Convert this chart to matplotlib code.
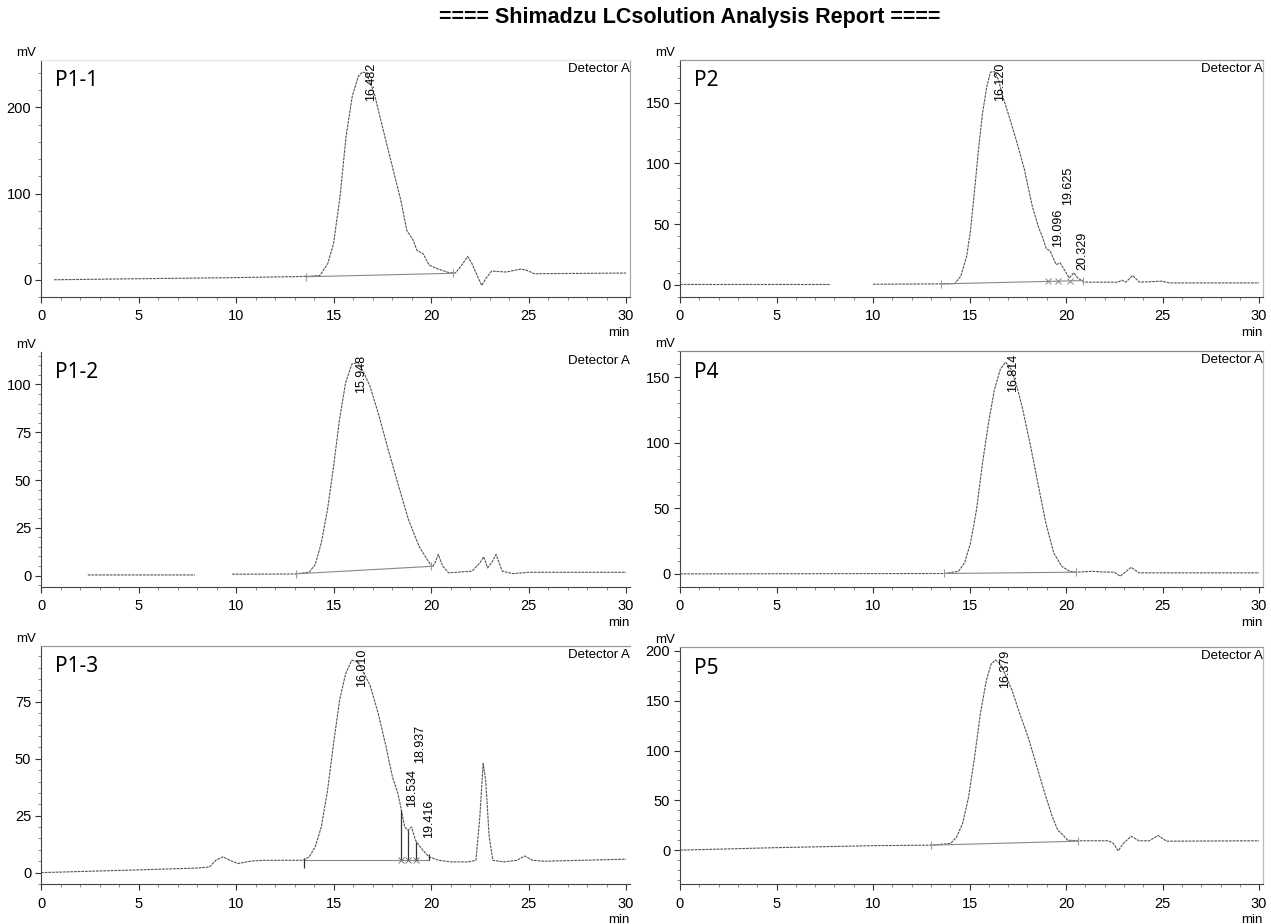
import numpy as np
import matplotlib
matplotlib.use("Agg")
import matplotlib.pyplot as plt
from matplotlib.ticker import MultipleLocator, AutoMinorLocator

plt.rcParams['font.family'] = ['Liberation Sans', 'DejaVu Sans']

nan = np.nan

# ---- chromatogram traces (time in min, signal in mV) ----
p11_t = [0.67, 5, 10, 13.67, 14.3, 14.7, 15.0, 15.33, 15.64, 15.96, 16.27, 16.48, 16.68, 16.89,
         17.1, 17.5, 17.93, 18.45, 18.76, 19.08, 19.28, 19.6, 19.9, 20.3, 20.95, 21.26, 21.57,
         21.88, 22.1, 22.4, 22.6, 22.8, 23.1, 23.86, 24.6, 24.9, 25.3, 30]
p11_mv = [0, 1.2, 2.5, 3.9, 5, 18.6, 42, 96, 166, 213, 236, 241, 240, 228,
          215, 178, 139, 92, 57, 46, 34, 30, 17, 13, 8, 8, 17,
          27, 18.6, 3, -6.6, 1, 10, 9, 12.4, 11, 7, 7.8]

p2_t = [0, 7.8, nan, 10, 13.5, 14.23, 14.54, 14.85, 15.05, 15.26, 15.46, 15.67, 15.88, 16.08,
        16.29, 16.5, 16.7, 17.0, 17.42, 17.84, 18.25, 18.56, 18.76, 18.97, 19.18, 19.48, 19.69,
        19.9, 20.16, 20.4, 20.6, 20.93, 22.68, 22.9, 23.1, 23.44, 23.8, 24.95, 25.36, 30]
p2_mv = [0.3, 0.3, nan, 0.5, 0.8, 1, 7, 23.5, 45, 78, 111, 141, 162, 175,
         175.5, 168.6, 156, 141, 119, 95, 64.6, 48, 40, 30, 27.6, 16.7, 18,
         12.6, 5.7, 9.9, 5.7, 2.2, 2.2, 3.8, 2.2, 7.7, 2.2, 3, 1.6, 1.6]

p12_t = [2.4, 7.9, nan, 9.8, 13.0, 13.75, 14.06, 14.37, 14.69, 15.0, 15.31, 15.62, 15.94, 16.25,
         16.56, 16.87, 17.29, 17.8, 18.33, 18.85, 19.38, 19.8, 20.06, 20.2, 20.37, 20.6, 20.9,
         22.1, 22.5, 22.7, 22.9, 23.1, 23.33, 23.65, 24.2, 25, 30]
p12_mv = [0.3, 0.3, nan, 0.7, 0.8, 1.7, 5.8, 17, 34.6, 57, 82, 101, 110.7, 111.5,
          106, 99, 85, 66, 47, 29, 15.4, 8.4, 4.4, 6.6, 11, 4.9, 1.4,
          2.3, 6.6, 9.8, 4, 6.6, 11, 2.3, 1, 1.7, 1.7]

p4_t = [0, 13.7, 14.43, 14.74, 15.05, 15.36, 15.67, 15.98, 16.28, 16.59, 16.86, 17.1, 17.41,
        17.72, 18.13, 18.54, 18.95, 19.36, 19.77, 20.18, 20.5, 21.4, 21.8, 22.5, 22.8, 23.06,
        23.37, 23.78, 30]
p4_mv = [0, 0.3, 2, 8.4, 23.6, 49, 84.5, 115, 140, 156, 161.4, 158, 145,
         127.7, 99.7, 69, 38.8, 16, 5.8, 2, 1.3, 2, 1.5, 1.3, -1.8, 1.3,
         5, 0.8, 0.8]

p13_t = [0, 5, 8, 8.65, 8.96, 9.33, 9.69, 10.1, 10.8, 11.46, 12.5, 13.44, 13.75, 14.06, 14.37,
         14.69, 15.0, 15.31, 15.62, 15.94, 16.25, 16.56, 16.87, 17.29, 17.7, 18.02, 18.3, 18.48,
         18.65, 18.81, 19.0, 19.2, 19.38, 19.58, 19.9, 20.4, 21.04, 21.9, 22.3, 22.5, 22.67,
         22.8, 22.98, 23.17, 23.75, 24.4, 24.8, 25.2, 25.8, 30]
p13_mv = [0, 1.2, 2, 2.5, 5.4, 6.9, 5.4, 4, 5.1, 5.4, 5.4, 5.4, 6.9, 11.3, 20,
          36, 56.7, 75.7, 87.4, 93.3, 92.6, 87.4, 82.3, 69.9, 55, 42, 34.7, 27.4,
          20, 18.6, 20, 14.2, 12, 9.8, 6.9, 5.4, 4.7, 4.7, 5.4, 24.5, 47.9,
          40.6, 15.7, 5.4, 4.7, 5.4, 7.3, 5.4, 5, 5.9]

p5_t = [0, 5, 10, 13.0, 14.02, 14.33, 14.64, 14.95, 15.26, 15.56, 15.87, 16.12, 16.34, 16.59,
        16.9, 17.2, 17.6, 18.03, 18.44, 18.85, 19.26, 19.57, 19.8, 20.08, 20.6, 22.2, 22.45,
        22.7, 22.96, 23.37, 23.78, 24.3, 24.77, 25.2, 30]
p5_mv = [0, 2.5, 4.5, 5, 6.7, 13.4, 26.8, 53.5, 93.6, 137, 170.6, 187, 191, 187,
         174, 160.5, 137, 113.7, 87, 60, 35, 20, 16, 10, 9.4, 9.4, 6.7,
         -0.7, 6.7, 14, 9.4, 9.4, 14.7, 9, 9.4]

# integration baselines (start, end)
p11_base = ([13.6, 21.1], [3.5, 7.5])
p2_base = ([13.5, 20.9], [0.8, 3.5])
p12_base = ([13.1, 20.0], [0.9, 4.8])
p4_base = ([13.7, 20.5], [0.3, 1.3])
p13_base = ([13.5, 19.9], [5.5, 5.5])
p5_base = ([13.0, 20.6], [5.0, 9.0])

# peak labels: retention time, label anchor (None = main peak, hung from the top)
p11_peaks = [("16.482", None)]
p2_peaks = [("16.120", None), ("19.096", 31), ("19.625", 66), ("20.329", 12.5)]
p12_peaks = [("15.948", None)]
p4_peaks = [("16.814", None)]
p13_peaks = [("16.010", None), ("18.534", 28.7), ("18.937", 48), ("19.416", 15)]
p5_peaks = [("16.379", None)]

p2_cuts = [19.07, 19.59, 20.2]
p13_drop_t = [18.48, 18.81, 19.25, 19.87]
p13_drop_mv = [27.4, 18.6, 13.5, 8.0]

W, H = 1271, 924
fig = plt.figure(figsize=(W / 100, H / 100), dpi=100)

def frac(l, t, r, b):
    return [l / W, 1 - b / H, (r - l) / W, (b - t) / H]

# name, rect, data, baseline, labels, ylim, y step, top spine colour, right spine colour
panels = [
    ("P1-1", frac(41, 60, 630, 297), p11_t, p11_mv, p11_base, p11_peaks, (-20, 255), 100, '#e6e6e6', '#aaaaaa'),
    ("P2", frac(680, 60, 1263, 297), p2_t, p2_mv, p2_base, p2_peaks, (-10, 185), 50, '#999999', '#bbbbbb'),
    ("P1-2", frac(41, 352, 630, 587), p12_t, p12_mv, p12_base, p12_peaks, (-6, 117), 25, None, None),
    ("P4", frac(680, 351, 1263, 587), p4_t, p4_mv, p4_base, p4_peaks, (-10, 170), 50, '#888888', '#bbbbbb'),
    ("P1-3", frac(41, 646, 630, 884), p13_t, p13_mv, p13_base, p13_peaks, (-5, 99.5), 25, '#999999', None),
    ("P5", frac(680, 647, 1263, 884), p5_t, p5_mv, p5_base, p5_peaks, (-34, 204), 50, '#999999', '#bbbbbb'),
]

line_col = '#555555'
for name, rect, t, mv, base, peaks, ylim, ystep, topcol, rcol in panels:
    ax = fig.add_axes(rect)
    ax.plot(t, mv, color=line_col, lw=0.8, ls=(0, (2.5, 0.8)))
    ax.plot(base[0], base[1], color='#888888', lw=0.8)
    if name != "P1-3":
        ax.plot(base[0], base[1], ls='none', marker='|', ms=6, color='#999999', mew=0.8)
    ax.set_xlim(0, 30.2)
    ax.set_ylim(*ylim)
    ax.xaxis.set_major_locator(MultipleLocator(5))
    ax.xaxis.set_minor_locator(MultipleLocator(1))
    ax.yaxis.set_major_locator(MultipleLocator(ystep))
    ax.yaxis.set_minor_locator(AutoMinorLocator(5))
    ax.tick_params(which='major', direction='out', length=4, width=0.8, colors='#333333',
                   labelsize=10.5, labelcolor='black', pad=3)
    ax.tick_params(which='minor', direction='out', length=2.5, width=0.6, colors='#777777')
    ax.tick_params(axis='x', which='major', pad=5)
    for s in ['left', 'bottom']:
        ax.spines[s].set_color('#444444')
        ax.spines[s].set_linewidth(0.8)
    if rcol is None:
        ax.spines['right'].set_visible(False)
    else:
        ax.spines['right'].set_color(rcol)
        ax.spines['right'].set_linewidth(0.9)
    if topcol is None:
        ax.spines['top'].set_visible(False)
    else:
        ax.spines['top'].set_color(topcol)
        ax.spines['top'].set_linewidth(0.9)

    for lab, ly in peaks:
        rt = float(lab)
        if ly is None:
            ax.annotate(lab, xy=(rt + 0.45, 1), xycoords=('data', 'axes fraction'),
                        xytext=(0, -3), textcoords='offset pixels', rotation=90,
                        ha='center', va='top', fontsize=9)
        else:
            ax.annotate(lab, xy=(rt + 0.5, ly), rotation=90, ha='center', va='bottom', fontsize=9)

    ax.annotate(name, xy=(0, 1), xycoords='axes fraction', xytext=(14, -21),
                textcoords='offset pixels', ha='left', va='center', fontsize=15,
                family=['Noto Sans', 'DejaVu Sans'])
    ax.annotate("Detector A", xy=(1, 1), xycoords='axes fraction', xytext=(0, -3),
                textcoords='offset pixels', ha='right', va='top', fontsize=9.5)
    ax.annotate("mV", xy=(0, 1), xycoords='axes fraction', xytext=(-5, 7),
                textcoords='offset pixels', ha='right', va='center', fontsize=9.5)
    ax.annotate("min", xy=(1, 0), xycoords='axes fraction', xytext=(0, -30),
                textcoords='offset pixels', ha='right', va='top', fontsize=9.5)

    if name == "P2":
        ax.plot(p2_cuts, np.interp(p2_cuts, base[0], base[1]), ls='none', marker='x',
                ms=4, mew=0.7, color='#888888')
    if name == "P1-3":
        ax.vlines(p13_drop_t, 5.5, p13_drop_mv, color='#333333', lw=0.9)
        ax.vlines([13.5], 2, 6.5, color='#333333', lw=0.9)
        ax.plot(p13_drop_t[:3], [5.5] * 3, ls='none', marker='x', ms=4, mew=0.7, color='#777777')

fig.text(690 / W, 1 - 18 / H, "==== Shimadzu LCsolution Analysis Report ====",
         ha='center', va='center', fontsize=15.5, fontweight='bold')

fig.savefig("out.png", dpi=100)
